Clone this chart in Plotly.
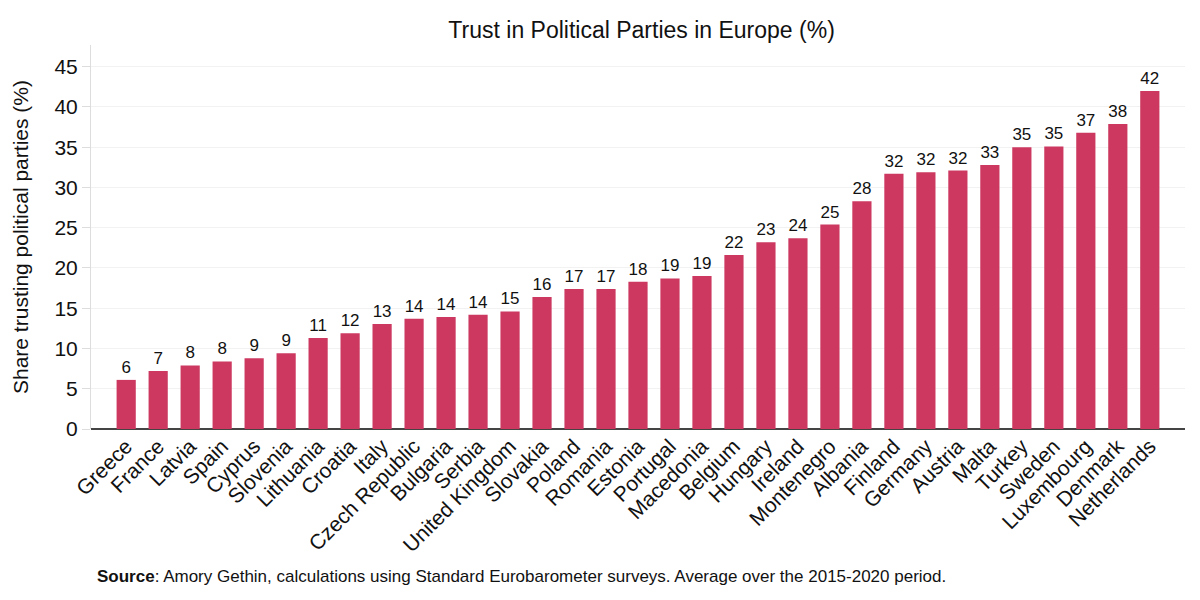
import plotly.graph_objects as go

countries = ["Greece", "France", "Latvia", "Spain", "Cyprus", "Slovenia", "Lithuania",
             "Croatia", "Italy", "Czech Republic", "Bulgaria", "Serbia", "United Kingdom",
             "Slovakia", "Poland", "Romania", "Estonia", "Portugal", "Macedonia", "Belgium",
             "Hungary", "Ireland", "Montenegro", "Albania", "Finland", "Germany", "Austria",
             "Malta", "Turkey", "Sweden", "Luxembourg", "Denmark", "Netherlands"]
trust = [6.1, 7.2, 7.9, 8.4, 8.8, 9.4, 11.3, 11.9, 13.05, 13.7, 13.9, 14.2, 14.6,
         16.4, 17.4, 17.4, 18.3, 18.7, 19.0, 21.6, 23.2, 23.7, 25.4, 28.3, 31.7,
         31.9, 32.1, 32.8, 35.0, 35.1, 36.8, 37.9, 42.0]
y_ticks = [0, 5, 10, 15, 20, 25, 30, 35, 40, 45]

font = "Liberation Sans, Arial, sans-serif"

fig = go.Figure()
fig.add_trace(go.Bar(
    x=countries, y=trust,
    marker=dict(color="#cc3860", line=dict(width=0)),
    width=0.6,
    texttemplate="%{y:.0f}", textposition="outside",
    textfont=dict(size=17, color="#111111", family=font),
    cliponaxis=False,
))

# page body has an 8px margin, so plot margins are shifted by 8px
fig.update_layout(
    width=1200, height=600,
    margin=dict(l=83, r=23, t=37, b=179),
    plot_bgcolor="white", paper_bgcolor="white",
    font=dict(family=font, color="#111111"),
    title=dict(text="Trust in Political Parties in Europe (%)", x=0.528, xanchor="center",
               y=0.963, yanchor="middle", font=dict(size=23, color="#111111")),
    showlegend=False,
    xaxis=dict(range=[-1.1, 33.1], tickangle=-45, tickfont=dict(size=21),
               showgrid=False, ticks="", showline=False, automargin=False),
    yaxis=dict(range=[0, 47.7], tickvals=y_ticks, tickfont=dict(size=21),
               showgrid=True, gridcolor="#f2f2f2", zeroline=True, zerolinecolor="#444444",
               zerolinewidth=2, showline=True, linecolor="#dddddd", linewidth=1,
               ticks="outside", ticklen=8, tickcolor="#dddddd", automargin=False),
    annotations=[
        dict(text="Share trusting political parties (%)", textangle=-90,
             xref="paper", yref="paper", x=0, y=0.5, xshift=-71,
             xanchor="center", yanchor="middle", showarrow=False,
             font=dict(size=21, color="#111111")),
        dict(text="<b>Source</b>: Amory Gethin, calculations using Standard Eurobarometer surveys. Average over the 2015-2020 period.",
             xref="paper", yref="paper", x=0.0037, y=-0.385, xanchor="left",
             yanchor="middle", showarrow=False, font=dict(size=17, color="#111111")),
    ],
)

fig.write_html("out.html")
